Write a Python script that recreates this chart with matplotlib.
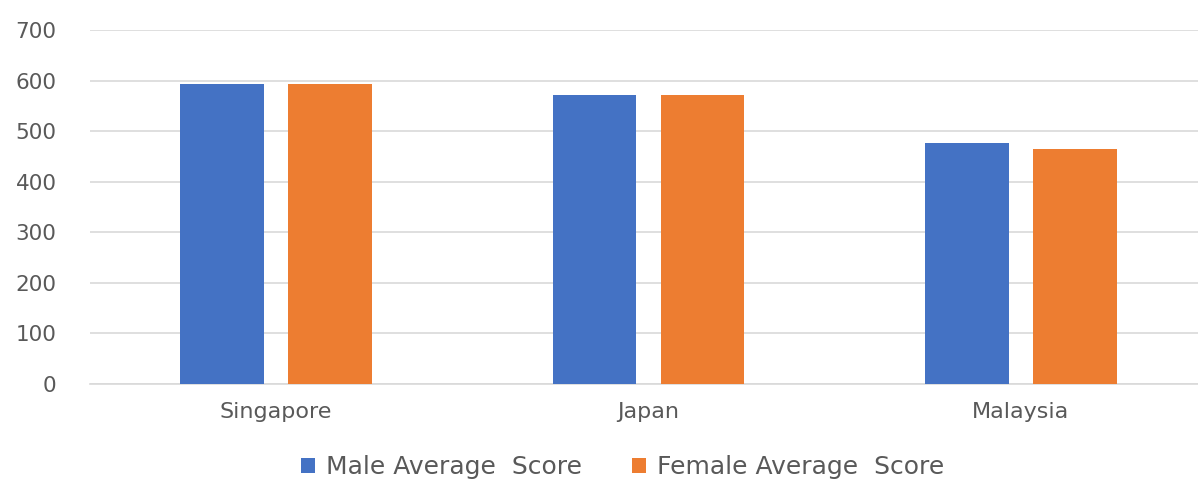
import numpy as np
import matplotlib.pyplot as plt

# 数据
countries = ['Singapore', 'Japan', 'Malaysia']
male_scores = [594, 571, 476]
female_scores = [594, 571, 464]
y_ticks = [0, 100, 200, 300, 400, 500, 600, 700]

blue = '#4472C4'
orange = '#ED7D31'
grey_text = '#595959'
grid_col = '#D9D9D9'

plt.rcParams['font.family'] = ['DejaVu Sans']

fig = plt.figure(figsize=(11.98, 4.79), dpi=100)
ax = fig.add_axes([90 / 1198, 95 / 479, 1117 / 1198, 354 / 479])

x = np.arange(len(countries))
w = 0.2255
off = 0.145
ax.bar(x - off, male_scores, w, color=blue, label='Male Average  Score', zorder=3)
ax.bar(x + off, female_scores, w, color=orange, label='Female Average  Score', zorder=3)

ax.set_xlim(-0.5, 2.5)
ax.set_ylim(0, 700)
ax.set_yticks(y_ticks)
ax.set_xticks(x)
ax.set_xticklabels(countries)
ax.yaxis.grid(True, color=grid_col, linewidth=1.2, zorder=0)
ax.set_axisbelow(True)
for s in ['top', 'right', 'left']:
    ax.spines[s].set_visible(False)
ax.spines['bottom'].set_color(grid_col)
ax.spines['bottom'].set_linewidth(1.2)
ax.tick_params(axis='y', length=0, labelsize=15.5, colors=grey_text, pad=24)
ax.tick_params(axis='x', length=0, labelsize=16, colors=grey_text, pad=13)

leg = fig.legend(loc='center', bbox_to_anchor=(623 / 1198, 1 - 467 / 479), ncol=2,
                 frameon=False, fontsize=18, handlelength=0.55, handleheight=0.55,
                 handletextpad=0.45, columnspacing=2.0)
for t in leg.get_texts():
    t.set_color(grey_text)

plt.savefig('out.png', dpi=100)
